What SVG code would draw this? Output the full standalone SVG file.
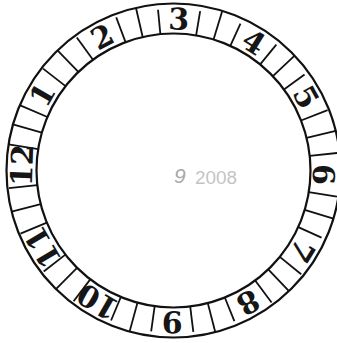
<svg xmlns="http://www.w3.org/2000/svg" width="337" height="343" viewBox="0 0 337 343">
<style>
.ring{fill:none;stroke:#111;stroke-width:2.2}
.tk line{stroke:#111;stroke-width:1.8}
.num{font-family:"DejaVu Serif",serif;font-weight:bold;font-size:30px;fill:#161616;text-anchor:middle}
.stamp{font-family:"Liberation Sans",sans-serif;fill:#a8a8a8}
</style>
<rect width="337" height="343" fill="#fff"/>
<g id="dial">
<circle class="ring" cx="173.5" cy="170.5" r="167"/>
<circle class="ring" cx="173.5" cy="170.5" r="137"/>
</g>
<g id="connectors" class="tk" transform="translate(-0.5 0)">
<line x1="174" y1="9" x2="174" y2="33.5" transform="rotate(9.5 174 170.5)"/>
<line x1="174" y1="3.5" x2="174" y2="33.5" transform="rotate(17 174 170.5)"/>
<line x1="174" y1="9" x2="174" y2="33.5" transform="rotate(24.5 174 170.5)"/>
<line x1="174" y1="8" x2="174" y2="33.5" transform="rotate(39.25 174 170.5)"/>
<line x1="174" y1="3.5" x2="174" y2="33.5" transform="rotate(46.5 174 170.5)"/>
<line x1="174" y1="8" x2="174" y2="33.5" transform="rotate(53.75 174 170.5)"/>
<line x1="174" y1="5" x2="174" y2="33.5" transform="rotate(68.6 174 170.5)"/>
<line x1="174" y1="3.5" x2="174" y2="33.5" transform="rotate(76.25 174 170.5)"/>
<line x1="174" y1="5" x2="174" y2="33.5" transform="rotate(83.9 174 170.5)"/>
<line x1="174" y1="5" x2="174" y2="33.5" transform="rotate(99.1 174 170.5)"/>
<line x1="174" y1="3.5" x2="174" y2="33.5" transform="rotate(106.75 174 170.5)"/>
<line x1="174" y1="8" x2="174" y2="33.5" transform="rotate(114.4 174 170.5)"/>
<line x1="174" y1="6" x2="174" y2="33.5" transform="rotate(129.1 174 170.5)"/>
<line x1="174" y1="3.5" x2="174" y2="33.5" transform="rotate(136.25 174 170.5)"/>
<line x1="174" y1="6" x2="174" y2="33.5" transform="rotate(143.4 174 170.5)"/>
<line x1="174" y1="8" x2="174" y2="33.5" transform="rotate(158 174 170.5)"/>
<line x1="174" y1="3.5" x2="174" y2="33.5" transform="rotate(165.5 174 170.5)"/>
<line x1="174" y1="8" x2="174" y2="33.5" transform="rotate(173 174 170.5)"/>
<line x1="174" y1="8" x2="174" y2="33.5" transform="rotate(187.9 174 170.5)"/>
<line x1="174" y1="3.5" x2="174" y2="33.5" transform="rotate(195.25 174 170.5)"/>
<line x1="174" y1="8" x2="174" y2="33.5" transform="rotate(202.6 174 170.5)"/>
<line x1="174" y1="6" x2="174" y2="33.5" transform="rotate(217.4 174 170.5)"/>
<line x1="174" y1="3.5" x2="174" y2="33.5" transform="rotate(224.75 174 170.5)"/>
<line x1="174" y1="6" x2="174" y2="33.5" transform="rotate(232.1 174 170.5)"/>
<line x1="174" y1="5" x2="174" y2="33.5" transform="rotate(247.6 174 170.5)"/>
<line x1="174" y1="3.5" x2="174" y2="33.5" transform="rotate(255.75 174 170.5)"/>
<line x1="174" y1="5" x2="174" y2="33.5" transform="rotate(263.9 174 170.5)"/>
<line x1="174" y1="3.5" x2="174" y2="33.5" transform="rotate(279 174 170.5)"/>
<line x1="174" y1="3.5" x2="174" y2="33.5" transform="rotate(286 174 170.5)"/>
<line x1="174" y1="4" x2="174" y2="33.5" transform="rotate(293 174 170.5)"/>
<line x1="174" y1="5" x2="174" y2="33.5" transform="rotate(308 174 170.5)"/>
<line x1="174" y1="3.5" x2="174" y2="33.5" transform="rotate(316 174 170.5)"/>
<line x1="174" y1="6" x2="174" y2="33.5" transform="rotate(324 174 170.5)"/>
<line x1="174" y1="7" x2="174" y2="33.5" transform="rotate(339.5 174 170.5)"/>
<line x1="174" y1="3.5" x2="174" y2="33.5" transform="rotate(347 174 170.5)"/>
<line x1="174" y1="9" x2="174" y2="33.5" transform="rotate(354.5 174 170.5)"/>
</g>
<g id="n3"><text class="num" x="173.5" y="29.5" transform="rotate(2 173.5 170.5)">3</text></g>
<g id="n4"><text class="num" x="173.5" y="29.5" transform="rotate(32 173.5 170.5)">4</text></g>
<g id="n5"><text class="num" x="173.5" y="29.5" transform="rotate(61 173.5 170.5)">5</text></g>
<g id="n6"><text class="num" x="173.5" y="31" transform="rotate(91.5 173.5 170.5)">6</text></g>
<g id="n7"><text class="num" x="173.5" y="29.5" transform="rotate(122 173.5 170.5)">7</text></g>
<g id="n8"><text class="num" x="173.5" y="29.5" transform="rotate(150.5 173.5 170.5)">8</text></g>
<g id="n9"><text class="num" x="173.5" y="29.5" transform="rotate(180.5 173.5 170.5)">9</text></g>
<g id="n10"><text class="num" x="173.5" y="29.5" transform="rotate(210 173.5 170.5)">10</text></g>
<g id="n11"><text class="num" x="173.5" y="29.5" transform="rotate(239.5 173.5 170.5)">11</text></g>
<g id="n12"><text class="num" x="173.5" y="29.5" transform="rotate(272 173.5 170.5)">12</text></g>
<g id="n1"><text class="num" x="173.5" y="29.5" transform="rotate(300 173.5 170.5)">1</text></g>
<g id="n2"><text class="num" x="173.5" y="29.5" transform="rotate(332 173.5 170.5)">2</text></g>
<g id="stamp">
<text class="stamp" x="174" y="183" font-size="21" font-style="italic">9</text>
<text class="stamp" x="195" y="184" font-size="18" textLength="42" lengthAdjust="spacingAndGlyphs" fill-opacity="0.7">2008</text>
</g>
</svg>
